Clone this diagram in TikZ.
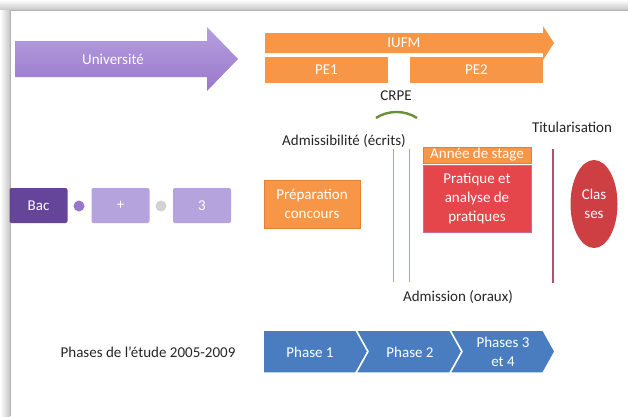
\documentclass[tikz,border=0pt]{standalone}
\usepackage{fontspec}
\setmainfont{Carlito}
\usepackage{xcolor}
\usetikzlibrary{shapes.geometric,positioning,calc}

\definecolor{univ}{HTML}{9878CA}
\definecolor{univlight}{HTML}{B79FE0}
\definecolor{lavender}{HTML}{B5A3DE}
\definecolor{bacpurple}{HTML}{64459A}
\definecolor{orng}{HTML}{F79646}
\definecolor{orngdark}{HTML}{E3822E}
\definecolor{redbox}{HTML}{E5464B}
\definecolor{titline}{HTML}{B2506B}
\definecolor{grn}{HTML}{9BBB59}
\definecolor{grndark}{HTML}{6E8F3A}
\definecolor{phaseblue}{HTML}{4A7DBF}

\begin{document}
\begin{tikzpicture}[x=1pt, y=-1pt,
    lbl/.style={font=\fontsize{15}{18}\selectfont, text=black!85, align=center},
    boxtxt/.style={font=\fontsize{15}{19}\selectfont, text=white, align=center, inner sep=0pt},
    purplebox/.style={boxtxt, rectangle, rounded corners=2, fill=lavender, minimum width=58, minimum height=35},
    orangebox/.style={boxtxt, rectangle, fill=orng, draw=orngdark, line width=0.6pt},
    chev/.style={fill=phaseblue, draw=white, line width=1.5pt, line join=miter}
]
\useasboundingbox (0,0) rectangle (628,416);
\fill[white] (0,0) rectangle (628,416);

% slide frame
\shade[top color=white, bottom color=gray!45] (0,0) rectangle (628,10);
\shade[left color=white, right color=gray!45] (0,10) rectangle (10,416);
\draw[gray!60, line width=0.8pt] (10,416) -- (10,10) -- (628,10);

% top arrows
\shade[top color=univlight, bottom color=univ]
    (15,41) -- (207,41) -- (207,27) -- (238,59) -- (207,91) -- (207,77) -- (15,77) -- cycle;
\node[boxtxt] (univ) at (113,59) {Université};
\fill[orng] (265,33) -- (543,33) -- (543,26) -- (554,43) -- (543,60) -- (543,53) -- (265,53) -- cycle;
\node[boxtxt] (iufm) at (404,43) {IUFM};
\node[orangebox, minimum width=123, minimum height=26, draw=none] (pe1) at (326.5,70) {PE1};
\node[orangebox, minimum width=133, minimum height=26, draw=none] (pe2) at (476.5,70) {PE2};

\node[lbl] (crpe) at (396,96) {CRPE};
\draw[grndark, line width=2.4pt] (376,118) .. controls (388,110) and (405,110) .. (417,118);

\node[lbl] (ecrits) at (344,141) {Admissibilité (écrits)};
\node[lbl] (titul) at (572,127) {Titularisation};

% Bac + 3
\node[purplebox, fill=bacpurple] (bac) at (38.5,205.5) {Bac};
\node[circle, fill=univ, minimum size=11, inner sep=0pt] (dot1) at (79,206) {};
\node[purplebox] (plus) at (120.5,205.5) {+};
\node[circle, fill=gray!35, minimum size=11, inner sep=0pt] (dot2) at (161,206) {};
\node[purplebox] (trois) at (202,205.5) {3};

\node[orangebox, minimum width=96, minimum height=48] (prep) at (312,204) {Préparation\\concours};

% concours and titularisation
\coordinate (e1top) at (393,149);
\coordinate (e1bot) at (393,282);
\coordinate (e2top) at (409,149);
\coordinate (e2bot) at (409,282);
\draw[grn, line width=1pt] (e1top) -- (e1bot);
\draw[grn, line width=1pt] (e2top) -- (e2bot);

\node[orangebox, minimum width=108, minimum height=16] (stage) at (477,155) {Année de stage};
\node[boxtxt, rectangle, fill=redbox, draw=titline!80, line width=0.6pt,
      minimum width=108, minimum height=67] (pratique) at (477,198.5) {Pratique et\\analyse de\\pratiques};

\coordinate (ttop) at (553,149);
\coordinate (tbot) at (553,283);
\draw[titline, line width=1.6pt] (ttop) -- (tbot);
\node[boxtxt, ellipse, fill=redbox!90!black, minimum width=47, minimum height=88] (classes) at (594,204) {Clas\\ses};

\node[lbl] (oraux) at (458,297) {Admission (oraux)};

% phases
\node[lbl] (etude) at (148,352) {Phases de l'étude 2005-2009};
\path[chev] (263,330) -- (356,330) -- (368,351.5) -- (356,373) -- (263,373) -- cycle;
\path[chev] (356,330) -- (450,330) -- (462,351.5) -- (450,373) -- (356,373) -- (368,351.5) -- cycle;
\path[chev] (450,330) -- (543,330) -- (555,351.5) -- (543,373) -- (450,373) -- (462,351.5) -- cycle;
\node[boxtxt] (ph1) at (310,352) {Phase 1};
\node[boxtxt] (ph2) at (410,352) {Phase 2};
\node[boxtxt] (ph3) at (503,352) {Phases 3\\et 4};
\end{tikzpicture}
\end{document}
